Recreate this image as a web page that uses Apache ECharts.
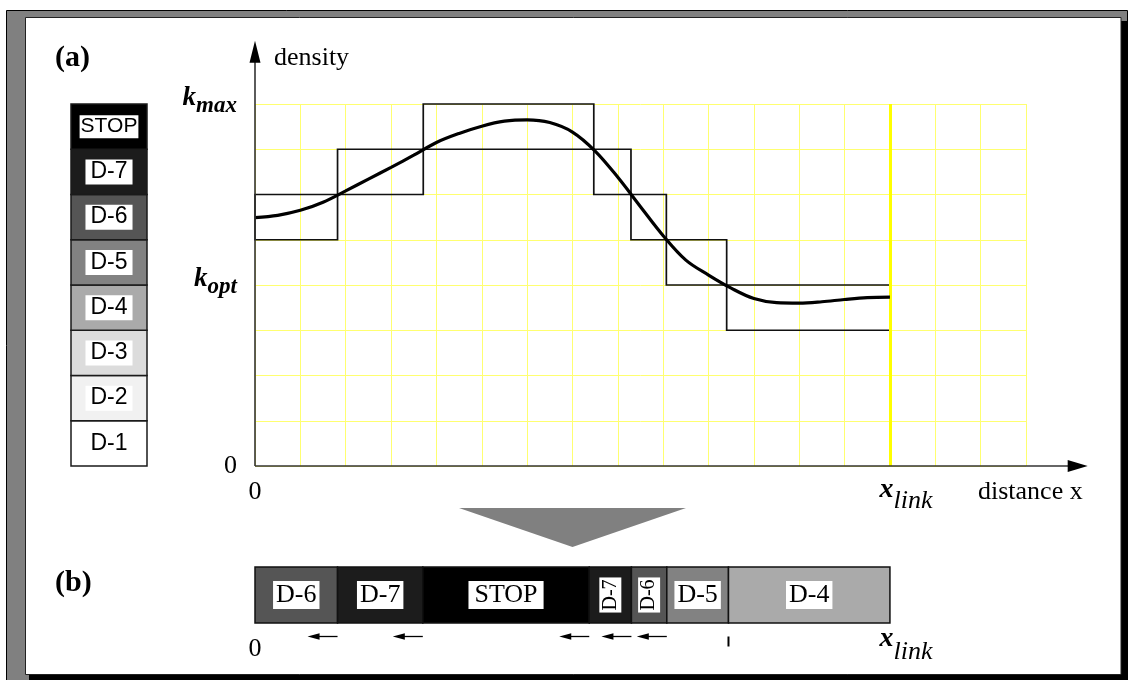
<!DOCTYPE html>
<html>
<head>
<meta charset="utf-8">
<script src="https://cdn.jsdelivr.net/npm/echarts@6/dist/echarts.min.js"></script>
<style>
  html, body { margin: 0; padding: 0; background: #fff; }
  #chart { width: 1128px; height: 680px; }
</style>
</head>
<body>
<div id="chart"></div>
<script>
// Density levels of the legend column, from bottom (D-1) to top (STOP)
const levelNames  = ['D-1', 'D-2', 'D-3', 'D-4', 'D-5', 'D-6', 'D-7', 'STOP'];
const levelColors = ['#ffffff', '#f1f1f1', '#dcdcdc', '#aaaaaa', '#828282', '#555555', '#1c1c1c', '#000000'];
const levelLow    = [0, 1, 2, 3, 4, 5, 6, 7];
const levelHigh   = [1, 2, 3, 4, 5, 6, 7, 8];

// Characteristic densities and link length
const kOpt = 4;
const kMax = 8;
const xLink = 14;

// Continuous density profile along the link
const profileX = [0, 0.5, 1, 1.5, 2, 2.5, 3, 3.5, 4, 4.5, 5, 5.5, 6, 6.5, 7, 7.5, 8, 8.5, 9, 9.5, 10, 10.5, 11, 11.5, 12, 12.5, 13, 13.5, 14];
const profileK = [5.49, 5.54, 5.65, 5.83, 6.08, 6.34, 6.6, 6.87, 7.15, 7.35, 7.51, 7.62, 7.65, 7.59, 7.38, 6.96, 6.38, 5.73, 5.09, 4.55, 4.22, 3.93, 3.7, 3.61, 3.6, 3.63, 3.68, 3.72, 3.73];

// Density bands crossed by the profile (one band per level step)
const bandStart = [0, 1.82, 3.71, 7.47, 8.29, 9.07, 10.4];
const bandEnd   = [1.82, 3.71, 7.47, 8.29, 9.07, 10.4, 14];
const bandLow   = [5, 6, 7, 6, 5, 4, 3];
const bandHigh  = [6, 7, 8, 7, 6, 5, 4];

// Discretised link (b): segment edges, level of each segment, motion of each edge
const segEdges  = [0, 1.82, 3.7, 7.37, 8.3, 9.08, 10.44, 14];
const segLevels = ['D-6', 'D-7', 'STOP', 'D-7', 'D-6', 'D-5', 'D-4'];
const edgeMotion = ['', 'back', 'back', 'back', 'back', 'back', 'still', ''];

const serif = "'Liberation Serif', 'DejaVu Serif', serif";
const sans = "'Liberation Sans', Arial, sans-serif";

const chart = echarts.init(document.getElementById('chart'), null, { renderer: 'canvas' });

const colorOf = name => levelColors[levelNames.indexOf(name)];

const kRich = {
  n: { fontFamily: serif, fontSize: 26, color: '#000' },
  k: { fontFamily: serif, fontSize: 27, fontWeight: 'bold', fontStyle: 'italic', color: '#000', padding: [0, 0, 12, 0] },
  s: { fontFamily: serif, fontSize: 23, fontWeight: 'bold', fontStyle: 'italic', color: '#000', padding: [4, 0, 0, 0] }
};
// tick labels under the distance axis and under the discretised link
const xRichTop = {
  n: { fontFamily: serif, fontSize: 26, color: '#000' },
  x: { fontFamily: serif, fontSize: 28, fontWeight: 'bold', fontStyle: 'italic', color: '#000', padding: [0, 0, 4, 32] },
  s: { fontFamily: serif, fontSize: 26, fontStyle: 'italic', color: '#000', padding: [18, 0, 0, 0] }
};
const xRichBottom = {
  n: { fontFamily: serif, fontSize: 26, color: '#000' },
  x: { fontFamily: serif, fontSize: 28, fontWeight: 'bold', fontStyle: 'italic', color: '#000', padding: [0, 0, 20, 32] },
  s: { fontFamily: serif, fontSize: 26, fontStyle: 'italic', color: '#000', padding: [6, 0, 0, 0] }
};
const xFormatter = v => v === 0 ? '{n|0}' : (v === xLink ? '{x|x}{s|link}' : '');
const gridLine = { show: true, lineStyle: { color: '#ffff70', width: 1 } };

const option = {
  backgroundColor: '#ffffff',
  animation: false,
  grid: [
    { left: 255, top: 104, width: 771, height: 362, outerBoundsMode: 'none' },
    { left: 71, top: 104, width: 76, height: 362, outerBoundsMode: 'none' },
    { left: 255, top: 567, width: 771, height: 56, outerBoundsMode: 'none' }
  ],
  xAxis: [
    {
      gridIndex: 0, type: 'value', min: 0, max: 17, interval: 1,
      axisLine: { show: false }, axisTick: { show: false },
      splitLine: gridLine,
      axisLabel: { margin: 26, verticalAlign: 'middle', formatter: xFormatter, rich: xRichTop },
      name: '{d|distance x}', nameLocation: 'end', nameGap: -48,
      nameTextStyle: {
        align: 'left', verticalAlign: 'middle',
        rich: { d: { fontFamily: serif, fontSize: 26, color: '#000', padding: [52, 0, 0, 0] } }
      }
    },
    { gridIndex: 1, type: 'value', min: 0, max: 1, show: false },
    {
      gridIndex: 2, type: 'value', min: 0, max: 17, interval: 1,
      axisLine: { show: false }, axisTick: { show: false }, splitLine: { show: false },
      axisLabel: { margin: 26, verticalAlign: 'middle', formatter: xFormatter, rich: xRichBottom }
    }
  ],
  yAxis: [
    {
      gridIndex: 0, type: 'value', min: 0, max: 8, interval: 1,
      axisLine: { show: false }, axisTick: { show: false },
      splitLine: gridLine,
      axisLabel: {
        margin: 18,
        formatter: v => v === 0 ? '{n|0}' : (v === kOpt ? '{k|k}{s|opt}' : (v === kMax ? '{k|k}{s|max}' : '')),
        rich: kRich
      },
      name: 'density', nameLocation: 'end', nameGap: 33,
      nameTextStyle: { fontFamily: serif, fontSize: 26, color: '#000', align: 'left', verticalAlign: 'bottom', padding: [0, 0, 0, 19] }
    },
    { gridIndex: 1, type: 'value', min: 0, max: 8, show: false },
    { gridIndex: 2, type: 'value', min: 0, max: 1, show: false }
  ],
  series: [
    {
      // link end marker
      type: 'line', xAxisIndex: 0, yAxisIndex: 0, data: [], silent: true,
      markLine: {
        silent: true, symbol: 'none', label: { show: false },
        lineStyle: { color: '#ffff00', width: 3, type: 'solid' },
        data: [{ xAxis: xLink }]
      }
    },
    {
      // density bands
      type: 'custom', xAxisIndex: 0, yAxisIndex: 0, silent: true,
      data: bandStart.map((s, i) => [s, bandEnd[i], bandLow[i], bandHigh[i]]),
      encode: { x: [0, 1], y: [2, 3] },
      renderItem: (params, api) => {
        const p0 = api.coord([api.value(0), api.value(3)]);
        const p1 = api.coord([api.value(1), api.value(2)]);
        return {
          type: 'rect',
          shape: { x: p0[0], y: p0[1], width: p1[0] - p0[0], height: p1[1] - p0[1] },
          style: { fill: null, stroke: '#111', lineWidth: 1.7 }
        };
      }
    },
    {
      // density profile
      type: 'line', xAxisIndex: 0, yAxisIndex: 0, silent: true,
      data: profileX.map((x, i) => [x, profileK[i]]),
      smooth: 0.35, symbol: 'none', z: 5,
      lineStyle: { color: '#000', width: 3.2 }
    },
    {
      // legend column of density levels
      type: 'custom', xAxisIndex: 1, yAxisIndex: 1, silent: true,
      data: levelNames.map((n, i) => [levelLow[i], levelHigh[i]]),
      encode: { y: [0, 1] },
      renderItem: (params, api) => {
        const i = params.dataIndex;
        const name = levelNames[i];
        const p0 = api.coord([0, api.value(1)]);
        const p1 = api.coord([1, api.value(0)]);
        const isStop = name === 'STOP';
        return {
          type: 'group',
          children: [
            {
              type: 'rect',
              shape: { x: p0[0], y: p0[1], width: p1[0] - p0[0], height: p1[1] - p0[1] },
              style: { fill: levelColors[i], stroke: '#1a1a1a', lineWidth: 1.5 }
            },
            {
              type: 'text', x: (p0[0] + p1[0]) / 2, y: (p0[1] + p1[1]) / 2,
              style: {
                text: name, align: 'center', verticalAlign: 'middle',
                fontFamily: sans, fontSize: isStop ? 21 : 23, fill: '#000',
                backgroundColor: '#fff', padding: isStop ? [1, 1] : [1, 5]
              }
            }
          ]
        };
      }
    },
    {
      // discretised link
      type: 'custom', xAxisIndex: 2, yAxisIndex: 2, silent: true,
      data: segLevels.map((n, i) => [segEdges[i], segEdges[i + 1]]),
      encode: { x: [0, 1] },
      renderItem: (params, api) => {
        const name = segLevels[params.dataIndex];
        const p0 = api.coord([api.value(0), 1]);
        const p1 = api.coord([api.value(1), 0]);
        const w = p1[0] - p0[0];
        const narrow = w < 50;
        return {
          type: 'group',
          children: [
            {
              type: 'rect',
              shape: { x: p0[0], y: p0[1], width: w, height: p1[1] - p0[1] },
              style: { fill: colorOf(name), stroke: '#111', lineWidth: 1.5 }
            },
            {
              type: 'text', x: (p0[0] + p1[0]) / 2, y: (p0[1] + p1[1]) / 2,
              rotation: narrow ? Math.PI / 2 : 0,
              style: {
                text: name, align: 'center', verticalAlign: 'middle',
                fontFamily: serif, fontSize: narrow ? 20 : 26, fill: '#000',
                backgroundColor: '#fff', padding: narrow ? [1, 2] : (name === 'STOP' ? [1, 6] : [1, 3])
              }
            }
          ]
        };
      }
    },
    {
      // motion of the segment edges
      type: 'custom', xAxisIndex: 2, yAxisIndex: 2, silent: true,
      data: segEdges.map(e => [e]),
      encode: { x: 0 },
      renderItem: (params, api) => {
        const motion = edgeMotion[params.dataIndex];
        const p = api.coord([api.value(0), 0]);
        const y = p[1] + 13.5;
        if (motion === 'back') {
          const hx = p[0] - 30;
          return {
            type: 'group',
            children: [
              { type: 'line', shape: { x1: hx + 8, y1: y, x2: p[0], y2: y }, style: { stroke: '#000', lineWidth: 1.3 } },
              { type: 'polygon', shape: { points: [[hx, y], [hx + 12, y - 3.2], [hx + 12, y + 3.2]] }, style: { fill: '#000' } }
            ]
          };
        }
        if (motion === 'still') {
          return { type: 'line', shape: { x1: p[0], y1: y, x2: p[0], y2: y + 10 }, style: { stroke: '#000', lineWidth: 2 } };
        }
        return null;
      }
    }
  ],
  graphic: {
    elements: [
      { type: 'rect', z: -30, shape: { x: 6.5, y: 10.5, width: 1121, height: 670 }, style: { fill: '#808080', stroke: '#000', lineWidth: 1 } },
      { type: 'rect', z: -29, shape: { x: 29, y: 21, width: 1099, height: 660 }, style: { fill: '#000' } },
      { type: 'rect', z: -28, shape: { x: 25.5, y: 17.5, width: 1095.5, height: 657 }, style: { fill: '#fff', stroke: '#222', lineWidth: 1 } },
      { type: 'text', x: 55, y: 58, style: { text: '(a)', fontFamily: serif, fontSize: 30, fontWeight: 'bold', fill: '#000', verticalAlign: 'middle' } },
      { type: 'text', x: 55, y: 583, style: { text: '(b)', fontFamily: serif, fontSize: 30, fontWeight: 'bold', fill: '#000', verticalAlign: 'middle' } },
      { type: 'polygon', shape: { points: [[459, 508], [686, 508], [572.5, 547]] }, style: { fill: '#808080' } }
    ]
  }
};

chart.setOption(option);

// Axis lines with arrowheads, extended past the grid through the axis scales
const origin = chart.convertToPixel({ gridIndex: 0 }, [0, 0]);
const xTip = chart.convertToPixel({ xAxisIndex: 0 }, 18.36);
const yTip = chart.convertToPixel({ yAxisIndex: 0 }, 9.4);
chart.setOption({
  graphic: {
    elements: option.graphic.elements.concat([
      { type: 'line', z: 10, shape: { x1: origin[0], y1: origin[1], x2: xTip - 16, y2: origin[1] }, style: { stroke: '#333', lineWidth: 1.6 } },
      { type: 'polygon', z: 10, shape: { points: [[xTip, origin[1]], [xTip - 20, origin[1] - 6], [xTip - 20, origin[1] + 6]] }, style: { fill: '#000' } },
      { type: 'line', z: 10, shape: { x1: origin[0], y1: origin[1], x2: origin[0], y2: yTip + 16 }, style: { stroke: '#333', lineWidth: 1.6 } },
      { type: 'polygon', z: 10, shape: { points: [[origin[0], yTip], [origin[0] - 5.5, yTip + 22], [origin[0] + 5.5, yTip + 22]] }, style: { fill: '#000' } }
    ])
  }
});
</script>
</body>
</html>
